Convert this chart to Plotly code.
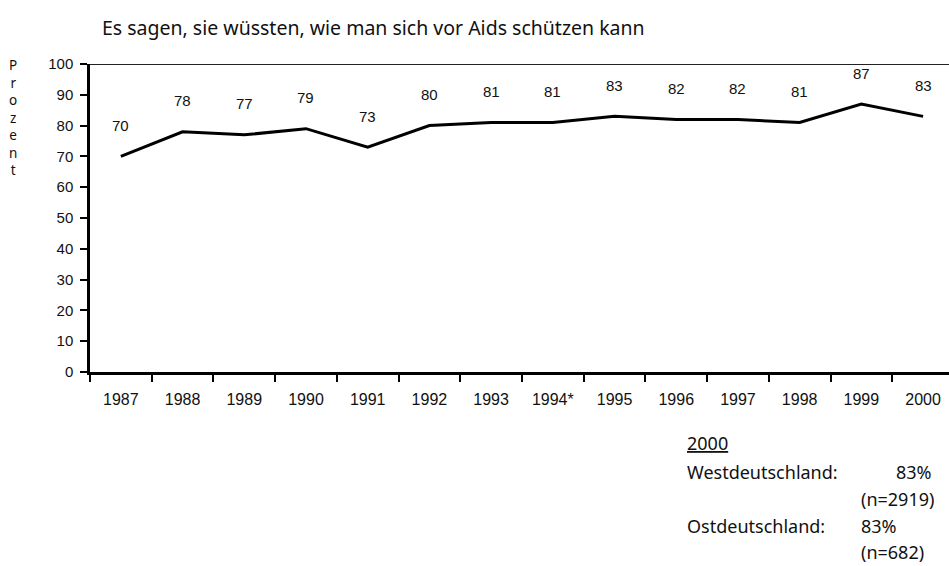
import plotly.graph_objects as go

years = ["1987", "1988", "1989", "1990", "1991", "1992", "1993", "1994*",
         "1995", "1996", "1997", "1998", "1999", "2000"]
values = [70, 78, 77, 79, 73, 80, 81, 81, 83, 82, 82, 81, 87, 83]
y_ticks = [0, 10, 20, 30, 40, 50, 60, 70, 80, 90, 100]

title_text = "Es sagen, sie wüssten, wie man sich vor Aids schützen kann"
y_title = "Prozent"

W, H = 949, 566
L, R, T, B = 90, 0, 64, 194
PW, PH = W - L - R, H - T - B

def px_x(px):
    return (px - L) / PW

def px_y(py):
    return (H - B - py) / PH

fig = go.Figure()
fig.add_trace(go.Scatter(
    x=years, y=values, mode="lines",
    line=dict(color="black", width=3),
    showlegend=False, hoverinfo="skip",
))

anns = []
for i, v in enumerate(values):
    anns.append(dict(
        x=i, y=v, xref="x", yref="y", text=str(v), showarrow=False,
        yshift=31, yanchor="middle",
        font=dict(family="Liberation Sans", size=15, color="#111"),
    ))

anns.append(dict(text=title_text, x=px_x(100), y=px_y(27), xref="paper", yref="paper",
                 xanchor="left", yanchor="middle", showarrow=False,
                 font=dict(family="Noto Sans", size=19.5, color="#111")))
anns.append(dict(text="<br>".join(list(y_title)), x=px_x(13), y=px_y(54),
                 xref="paper", yref="paper", xanchor="center", yanchor="top",
                 showarrow=False, align="center",
                 font=dict(family="Noto Sans", size=13.5, color="#111")))

text_font = dict(family="Noto Sans", size=18, color="#111")

def note(txt, px, py, anchor="left"):
    anns.append(dict(text=txt, x=px_x(px), y=px_y(py), xref="paper", yref="paper",
                     xanchor=anchor, yanchor="middle", showarrow=False, font=text_font))

note("<u>2000</u>", 685, 443)
note("Westdeutschland:", 685, 472)
note("83%", 934, 472, "right")
note("(n=2919)", 859, 499)
note("Ostdeutschland:", 685, 526)
note("83%", 859, 526)
note("(n=682)", 859, 552)

fig.update_layout(
    width=W, height=H,
    margin=dict(l=L, r=R, t=T, b=B),
    paper_bgcolor="white", plot_bgcolor="white",
    font=dict(family="Liberation Sans", color="#111"),
    annotations=anns,
)

fig.update_xaxes(
    type="category", range=[-0.5, 13.42], tickson="boundaries",
    ticks="outside", ticklen=7, tickwidth=1.5, tickcolor="black",
    showline=True, linecolor="black", linewidth=2.5, showgrid=False,
    tickfont=dict(family="Liberation Sans", size=16, color="#111"),
    ticklabelstandoff=11, zeroline=False,
)
fig.update_yaxes(
    range=[0, 100], tickvals=y_ticks, ticks="outside", ticklen=7, tickwidth=1.5,
    tickcolor="black", showline=True, linecolor="black", linewidth=2.5,
    showgrid=False, zeroline=False,
    tickfont=dict(family="Liberation Sans", size=15, color="#111"),
    ticklabelstandoff=4,
)

fig.add_shape(type="line", xref="paper", yref="y", x0=0, x1=1, y0=100, y1=100,
              line=dict(color="#222", width=2))

fig.write_html("out.html", config={"displayModeBar": False},
               post_script="document.body.style.margin='0';")
